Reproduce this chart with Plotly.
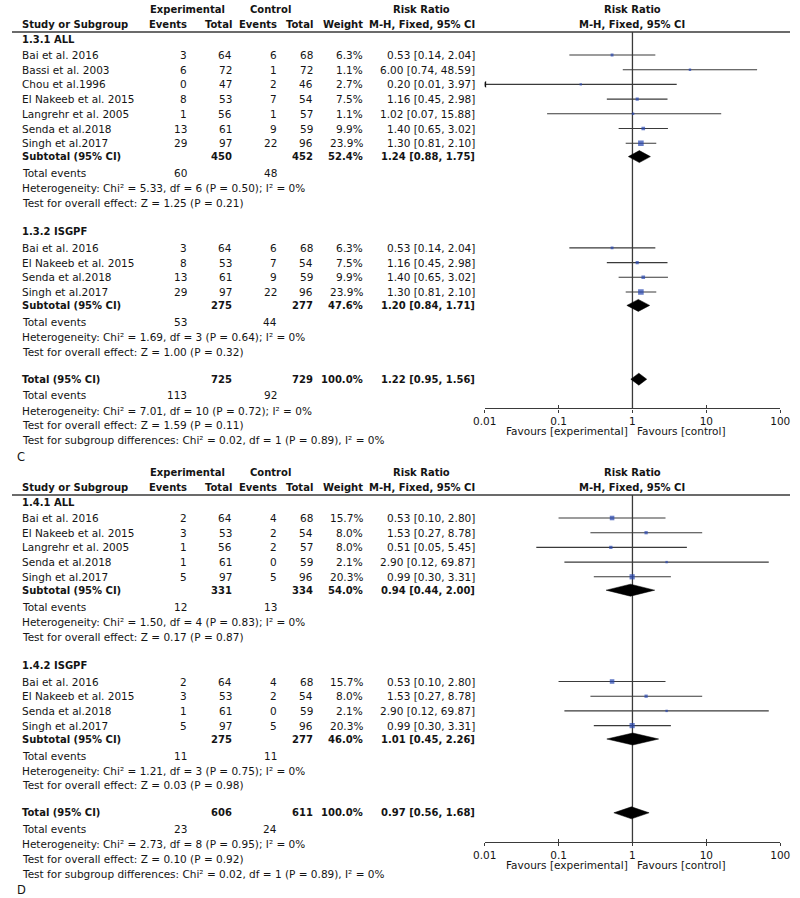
import math
import plotly.graph_objects as go

# ---------------- data : panel C ----------------
C_GROUP_NAMES = ["1.3.1 ALL", "1.3.2 ISGPF"]

C1_STUDY = ["Bai et al. 2016", "Bassi et al. 2003", "Chou et al.1996", "El Nakeeb et al. 2015",
            "Langrehr et al. 2005", "Senda et al.2018", "Singh et al.2017"]
C1_EXP_EV = [3, 6, 0, 8, 1, 13, 29]
C1_EXP_N = [64, 72, 47, 53, 56, 61, 97]
C1_CTL_EV = [6, 1, 2, 7, 1, 9, 22]
C1_CTL_N = [68, 72, 46, 54, 57, 59, 96]
C1_WEIGHT = [6.3, 1.1, 2.7, 7.5, 1.1, 9.9, 23.9]
C1_RR = [0.53, 6.00, 0.20, 1.16, 1.02, 1.40, 1.30]
C1_LO = [0.14, 0.74, 0.01, 0.45, 0.07, 0.65, 0.81]
C1_HI = [2.04, 48.59, 3.97, 2.98, 15.88, 3.02, 2.10]

C2_STUDY = ["Bai et al. 2016", "El Nakeeb et al. 2015", "Senda et al.2018", "Singh et al.2017"]
C2_EXP_EV = [3, 8, 13, 29]
C2_EXP_N = [64, 53, 61, 97]
C2_CTL_EV = [6, 7, 9, 22]
C2_CTL_N = [68, 54, 59, 96]
C2_WEIGHT = [6.3, 7.5, 9.9, 23.9]
C2_RR = [0.53, 1.16, 1.40, 1.30]
C2_LO = [0.14, 0.45, 0.65, 0.81]
C2_HI = [2.04, 2.98, 3.02, 2.10]

C_SUB_EXP_N = [450, 275]
C_SUB_CTL_N = [452, 277]
C_SUB_WEIGHT = [52.4, 47.6]
C_SUB_RR = [1.24, 1.20]
C_SUB_LO = [0.88, 0.84]
C_SUB_HI = [1.75, 1.71]
C_SUB_EXP_EV = [60, 53]
C_SUB_CTL_EV = [48, 44]
C_SUB_CHI2 = [5.33, 1.69]
C_SUB_DF = [6, 3]
C_SUB_P_HET = [0.50, 0.64]
C_SUB_I2 = [0, 0]
C_SUB_Z = [1.25, 1.00]
C_SUB_P_Z = [0.21, 0.32]

# total: exp_n, ctl_n, weight, rr, lo, hi, exp_ev, ctl_ev
C_TOT = [725, 729, 100.0, 1.22, 0.95, 1.56, 113, 92]
# heterogeneity chi2, df, p, i2 ; overall z, p ; subgroup chi2, df, p, i2
C_TOT_HET = [7.01, 10, 0.72, 0]
C_TOT_Z = [1.59, 0.11]
C_SUBGRP = [0.02, 1, 0.89, 0]

# ---------------- data : panel D ----------------
D_GROUP_NAMES = ["1.4.1 ALL", "1.4.2 ISGPF"]

D1_STUDY = ["Bai et al. 2016", "El Nakeeb et al. 2015", "Langrehr et al. 2005",
            "Senda et al.2018", "Singh et al.2017"]
D1_EXP_EV = [2, 3, 1, 1, 5]
D1_EXP_N = [64, 53, 56, 61, 97]
D1_CTL_EV = [4, 2, 2, 0, 5]
D1_CTL_N = [68, 54, 57, 59, 96]
D1_WEIGHT = [15.7, 8.0, 8.0, 2.1, 20.3]
D1_RR = [0.53, 1.53, 0.51, 2.90, 0.99]
D1_LO = [0.10, 0.27, 0.05, 0.12, 0.30]
D1_HI = [2.80, 8.78, 5.45, 69.87, 3.31]

D2_STUDY = ["Bai et al. 2016", "El Nakeeb et al. 2015", "Senda et al.2018", "Singh et al.2017"]
D2_EXP_EV = [2, 3, 1, 5]
D2_EXP_N = [64, 53, 61, 97]
D2_CTL_EV = [4, 2, 0, 5]
D2_CTL_N = [68, 54, 59, 96]
D2_WEIGHT = [15.7, 8.0, 2.1, 20.3]
D2_RR = [0.53, 1.53, 2.90, 0.99]
D2_LO = [0.10, 0.27, 0.12, 0.30]
D2_HI = [2.80, 8.78, 69.87, 3.31]

D_SUB_EXP_N = [331, 275]
D_SUB_CTL_N = [334, 277]
D_SUB_WEIGHT = [54.0, 46.0]
D_SUB_RR = [0.94, 1.01]
D_SUB_LO = [0.44, 0.45]
D_SUB_HI = [2.00, 2.26]
D_SUB_EXP_EV = [12, 11]
D_SUB_CTL_EV = [13, 11]
D_SUB_CHI2 = [1.50, 1.21]
D_SUB_DF = [4, 3]
D_SUB_P_HET = [0.83, 0.75]
D_SUB_I2 = [0, 0]
D_SUB_Z = [0.17, 0.03]
D_SUB_P_Z = [0.87, 0.98]

D_TOT = [606, 611, 100.0, 0.97, 0.56, 1.68, 23, 24]
D_TOT_HET = [2.73, 8, 0.95, 0]
D_TOT_Z = [0.10, 0.92]
D_SUBGRP = [0.02, 1, 0.89, 0]

# ---------------- labels ----------------
HDR_EXP = "Experimental"
HDR_CTL = "Control"
HDR_RR = "Risk Ratio"
HDR_STUDY = "Study or Subgroup"
HDR_EV = "Events"
HDR_TOT = "Total"
HDR_W = "Weight"
HDR_MH = "M-H, Fixed, 95% CI"
FAV_LEFT = "Favours [experimental]"
FAV_RIGHT = "Favours [control]"
TICK_VALS = [0.01, 0.1, 1, 10, 100]
TICK_TEXT = ["0.01", "0.1", "1", "10", "100"]
PANEL_LETTERS = ["C", "D"]

# ---------------- style / layout ----------------
W, H = 800, 898
FONT = "DejaVu Sans"
SIZE = 10.5
BSIZE = 10
TXT = "#141414"
LINE = "#3a3a3a"
BLUE = "#2646b0"
AX_MIN = 0.01

X_STUDY, X_EEV, X_ETOT, X_CEV, X_CTOT, X_W, X_RR = 10, 180, 226, 272, 310, 361, 476
X_EXP_HDR, X_CTL_HDR, X_RR_HDR = 180, 266, 421
PLOT_X0, PLOT_X1, ONE_X = 486, 790, 638

annotations = []
shapes = []
traces = []


def txt(x, y, s, anchor="left", bold=False, size=None):
    annotations.append(dict(
        x=x, y=y, xref="x", yref="y", text=(f"<b>{s}</b>" if bold else s),
        showarrow=False, xanchor=anchor, yanchor="middle", align=anchor,
        borderpad=0, borderwidth=0,
        font=dict(family=FONT, size=size or (BSIZE if bold else SIZE), color=TXT)))


def ci(r, l, h):
    return f"{r:.2f} [{l:.2f}, {h:.2f}]"


def make_group(name, study, eev, en, cev, cn, w, rr, lo, hi, sub, i):
    return dict(name=name, study=study, eev=eev, en=en, cev=cev, cn=cn, w=w, rr=rr, lo=lo, hi=hi,
                sen=sub[0][i], scn=sub[1][i], sw=sub[2][i], srr=sub[3][i], slo=sub[4][i], shi=sub[5][i],
                seev=sub[6][i], scev=sub[7][i], chi2=sub[8][i], df=sub[9][i], phet=sub[10][i],
                i2=sub[11][i], z=sub[12][i], pz=sub[13][i])


def draw_panel(top, letter, groups, tot, tot_het, tot_z, subgrp, xa, ya, xa_in):
    ytop1, ytop2, rule = top + 9, top + 24.3, top + 32
    txt(X_EXP_HDR, ytop1, HDR_EXP, "center", True)
    txt(X_CTL_HDR, ytop1, HDR_CTL, "center", True)
    txt(X_RR_HDR, ytop1, HDR_RR, "center", True)
    txt(ONE_X, ytop1, HDR_RR, "center", True)
    txt(X_STUDY, ytop2, HDR_STUDY, "left", True)
    txt(X_EEV, ytop2, HDR_EV, "right", True)
    txt(X_ETOT, ytop2, HDR_TOT, "right", True)
    txt(X_CEV, ytop2, HDR_EV, "right", True)
    txt(X_CTOT, ytop2, HDR_TOT, "right", True)
    txt(X_W, ytop2, HDR_W, "right", True)
    txt(X_RR, ytop2, HDR_MH, "right", True)
    txt(ONE_X, ytop2, HDR_MH, "center", True)
    shapes.append(dict(type="line", xref="x", yref="y", x0=0, x1=W, y0=rule, y1=rule,
                       line=dict(color=LINE, width=1.3)))

    ci_x, ci_y, ar_x, ar_y = [], [], [], []
    sq_x, sq_y, sq_s = [], [], []
    dm_x, dm_y = [], []

    def diamond(r, l, h, y):
        dm_x.extend([l, r, h, r, l, None])
        dm_y.extend([y, y - 6, y, y + 6, y, None])

    y = top + 39
    for g in groups:
        txt(X_STUDY, y, g["name"], "left", True)
        y += 16
        for k, s in enumerate(g["study"]):
            txt(X_STUDY, y, s)
            txt(X_EEV, y, str(g["eev"][k]), "right")
            txt(X_ETOT, y, str(g["en"][k]), "right")
            txt(X_CEV, y, str(g["cev"][k]), "right")
            txt(X_CTOT, y, str(g["cn"][k]), "right")
            txt(X_W, y, f"{g['w'][k]:.1f}%", "right")
            txt(X_RR, y, ci(g["rr"][k], g["lo"][k], g["hi"][k]), "right")
            lo = max(g["lo"][k], AX_MIN)
            ci_x.extend([lo, g["hi"][k], None])
            ci_y.extend([y, y, None])
            if g["lo"][k] <= AX_MIN:
                ar_x.append(AX_MIN)
                ar_y.append(y)
            sq_x.append(g["rr"][k])
            sq_y.append(y)
            sq_s.append(max(2.4, 1.15 * math.sqrt(g["w"][k])))
            y += 14.7
        y = y - 14.7 + 13.4
        txt(X_STUDY, y, "Subtotal (95% CI)", "left", True)
        txt(X_ETOT, y, str(g["sen"]), "right", True)
        txt(X_CTOT, y, str(g["scn"]), "right", True)
        txt(X_W, y, f"{g['sw']:.1f}%", "right", True)
        txt(X_RR, y, ci(g["srr"], g["slo"], g["shi"]), "right", True)
        diamond(g["srr"], g["slo"], g["shi"], y)
        y += 16.6
        txt(X_STUDY, y, "Total events")
        txt(X_EEV, y, str(g["seev"]), "right")
        txt(X_CEV, y, str(g["scev"]), "right")
        y += 15
        txt(X_STUDY, y, f"Heterogeneity: Chi² = {g['chi2']:.2f}, df = {g['df']} (P = {g['phet']:.2f}); I² = {g['i2']}%")
        y += 14.7
        txt(X_STUDY, y, f"Test for overall effect: Z = {g['z']:.2f} (P = {g['pz']:.2f})")
        y += 29
    y = y - 29 + 27.5
    txt(X_STUDY, y, "Total (95% CI)", "left", True)
    txt(X_ETOT, y, str(tot[0]), "right", True)
    txt(X_CTOT, y, str(tot[1]), "right", True)
    txt(X_W, y, f"{tot[2]:.1f}%", "right", True)
    txt(X_RR, y, ci(tot[3], tot[4], tot[5]), "right", True)
    diamond(tot[3], tot[4], tot[5], y)
    y += 16
    txt(X_STUDY, y, "Total events")
    txt(X_EEV, y, str(tot[6]), "right")
    txt(X_CEV, y, str(tot[7]), "right")
    y += 15.5
    txt(X_STUDY, y, f"Heterogeneity: Chi² = {tot_het[0]:.2f}, df = {tot_het[1]} (P = {tot_het[2]:.2f}); I² = {tot_het[3]}%")
    axis_y = y - 2.3
    y += 14.5
    txt(X_STUDY, y, f"Test for overall effect: Z = {tot_z[0]:.2f} (P = {tot_z[1]:.2f})")
    y += 15
    txt(X_STUDY, y, f"Test for subgroup differences: Chi² = {subgrp[0]:.2f}, df = {subgrp[1]} (P = {subgrp[2]:.2f}), I² = {subgrp[3]}%")
    y += 16.5
    txt(5, y, letter, "left", False, 11.5)

    txt(ONE_X - 5, axis_y + 23, FAV_LEFT, "right")
    txt(ONE_X + 5, axis_y + 23, FAV_RIGHT, "left")

    # forest traces
    traces.append(go.Scatter(x=[1, 1], y=[rule, axis_y], xaxis=xa, yaxis=ya, mode="lines",
                             line=dict(color=LINE, width=1.3), hoverinfo="skip"))
    traces.append(go.Scatter(x=ci_x, y=ci_y, xaxis=xa, yaxis=ya, mode="lines",
                             line=dict(color=LINE, width=1.1), hoverinfo="skip"))
    if ar_x:
        traces.append(go.Scatter(x=ar_x, y=ar_y, xaxis=xa, yaxis=ya, mode="markers",
                                 marker=dict(symbol="triangle-left", size=6, color="#111111"),
                                 hoverinfo="skip"))
    traces.append(go.Scatter(x=sq_x, y=sq_y, xaxis=xa, yaxis=ya, mode="markers",
                             marker=dict(symbol="square", size=sq_s, color=BLUE, line=dict(width=0)),
                             hoverinfo="skip"))
    traces.append(go.Scatter(x=dm_x, y=dm_y, xaxis=xa, yaxis=ya, mode="lines", fill="toself",
                             fillcolor="#000000", line=dict(color="#000000", width=0.5),
                             hoverinfo="skip"))
    traces.append(go.Scatter(x=[1], y=[axis_y], xaxis=xa_in, yaxis=ya, mode="markers",
                             marker=dict(opacity=0), hoverinfo="skip"))
    return rule, axis_y


SUB_C = [C_SUB_EXP_N, C_SUB_CTL_N, C_SUB_WEIGHT, C_SUB_RR, C_SUB_LO, C_SUB_HI, C_SUB_EXP_EV,
         C_SUB_CTL_EV, C_SUB_CHI2, C_SUB_DF, C_SUB_P_HET, C_SUB_I2, C_SUB_Z, C_SUB_P_Z]
SUB_D = [D_SUB_EXP_N, D_SUB_CTL_N, D_SUB_WEIGHT, D_SUB_RR, D_SUB_LO, D_SUB_HI, D_SUB_EXP_EV,
         D_SUB_CTL_EV, D_SUB_CHI2, D_SUB_DF, D_SUB_P_HET, D_SUB_I2, D_SUB_Z, D_SUB_P_Z]

groups_c = [
    make_group(C_GROUP_NAMES[0], C1_STUDY, C1_EXP_EV, C1_EXP_N, C1_CTL_EV, C1_CTL_N, C1_WEIGHT, C1_RR, C1_LO, C1_HI, SUB_C, 0),
    make_group(C_GROUP_NAMES[1], C2_STUDY, C2_EXP_EV, C2_EXP_N, C2_CTL_EV, C2_CTL_N, C2_WEIGHT, C2_RR, C2_LO, C2_HI, SUB_C, 1),
]
groups_d = [
    make_group(D_GROUP_NAMES[0], D1_STUDY, D1_EXP_EV, D1_EXP_N, D1_CTL_EV, D1_CTL_N, D1_WEIGHT, D1_RR, D1_LO, D1_HI, SUB_D, 0),
    make_group(D_GROUP_NAMES[1], D2_STUDY, D2_EXP_EV, D2_EXP_N, D2_CTL_EV, D2_CTL_N, D2_WEIGHT, D2_RR, D2_LO, D2_HI, SUB_D, 1),
]

rule_c, axis_c = draw_panel(0, PANEL_LETTERS[0], groups_c, C_TOT, C_TOT_HET, C_TOT_Z, C_SUBGRP, "x2", "y2", "x4")
rule_d, axis_d = draw_panel(463, PANEL_LETTERS[1], groups_d, D_TOT, D_TOT_HET, D_TOT_Z, D_SUBGRP, "x3", "y3", "x5")

fig = go.Figure(traces)


def log_axis(anchor, overlay=None, inside=False):
    d = dict(type="log", range=[-2, 2], domain=[PLOT_X0 / W, PLOT_X1 / W], anchor=anchor,
             showgrid=False, zeroline=False, fixedrange=True,
             tickmode="array", tickvals=TICK_VALS, ticktext=TICK_TEXT,
             tickcolor=LINE, tickwidth=1.2, ticklen=3, ticklabeloverflow="allow",
             tickfont=dict(family=FONT, size=SIZE, color=TXT))
    if inside:
        d.update(overlaying=overlay, ticks="inside", showticklabels=False, showline=False)
    else:
        d.update(ticks="outside", showline=True, linecolor=LINE, linewidth=1.3)
    return d


def pix_y(rule, axis_y, anchor):
    return dict(range=[axis_y, rule], domain=[1 - axis_y / H, 1 - rule / H], anchor=anchor,
                visible=False, fixedrange=True)


fig.update_layout(
    width=W, height=H, autosize=False, showlegend=False,
    margin=dict(l=0, r=0, t=0, b=0),
    paper_bgcolor="white", plot_bgcolor="rgba(0,0,0,0)",
    xaxis=dict(range=[0, W], domain=[0, 1], visible=False, fixedrange=True),
    yaxis=dict(range=[H, 0], domain=[0, 1], visible=False, fixedrange=True),
    xaxis2=log_axis("y2"),
    yaxis2=pix_y(rule_c, axis_c, "x2"),
    xaxis3=log_axis("y3"),
    yaxis3=pix_y(rule_d, axis_d, "x3"),
    xaxis4=log_axis("y2", "x2", True),
    xaxis5=log_axis("y3", "x3", True),
    annotations=annotations,
    shapes=shapes,
)

fig.write_html("out.html", config={"displayModeBar": False},
               post_script="document.body.style.margin='0';document.body.style.overflow='hidden';")
